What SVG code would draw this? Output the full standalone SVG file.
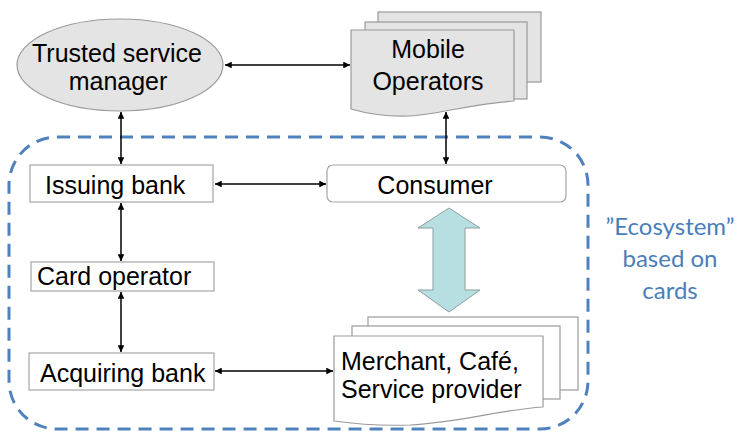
<svg xmlns="http://www.w3.org/2000/svg" width="739" height="432" viewBox="0 0 739 432">
<style>
.lbl{font-family:"Liberation Sans",Arial,sans-serif;font-size:25px;fill:#000}
.box{fill:#fff;stroke:#a6a6a6;stroke-width:1.2}
.gray{fill:#e4e4e4;stroke:#9a9a9a;stroke-width:1.2}
.doc{fill:#fff;stroke:#9a9a9a;stroke-width:1.2}
.con{stroke:#000;stroke-width:1.5;fill:none;marker-start:url(#ah);marker-end:url(#ah)}
.eco{font-family:Lato,"Open Sans",sans-serif;font-size:24px;fill:#4a7ebb}
</style>
<defs>
<marker id="ah" viewBox="0 0 10 10" refX="10" refY="5" markerWidth="4.5" markerHeight="4.5" orient="auto-start-reverse" markerUnits="strokeWidth">
<path d="M0,0 L10,5 L0,10 z" fill="#000"/>
</marker>
</defs>
<rect x="9" y="137" width="579" height="292" rx="48" ry="48" fill="none" stroke="#4f81bd" stroke-width="3" stroke-dasharray="13,8"/>
<g id="ecosystem-label">
<text class="eco" x="670" y="235" text-anchor="middle">”Ecosystem”</text>
<text class="eco" x="670" y="267" text-anchor="middle">based on</text>
<text class="eco" x="670" y="299" text-anchor="middle">cards</text>
</g>
<g id="tsm">
<ellipse cx="120" cy="65" rx="103" ry="46" class="gray"/>
<text class="lbl" x="117" y="62" text-anchor="middle">Trusted service</text>
<text class="lbl" x="118" y="90" text-anchor="middle">manager</text>
</g>
<g id="mobile-operators">
<rect x="378" y="12" width="163" height="70" class="gray"/>
<rect x="365" y="22" width="162" height="77" class="gray"/>
<path d="M351,30 H514 V101 C470,104 440,114 410,116 C385,117 365,113 351,109 Z" class="gray"/>
<text class="lbl" x="428" y="58" text-anchor="middle">Mobile</text>
<text class="lbl" x="428" y="90" text-anchor="middle">Operators</text>
</g>
<g id="issuing-bank">
<rect x="30" y="165" width="183" height="37" class="box"/>
<text class="lbl" x="45" y="194">Issuing bank</text>
</g>
<g id="consumer">
<rect x="327" y="165" width="239" height="37" rx="6" ry="6" class="box"/>
<text class="lbl" x="435" y="194" text-anchor="middle">Consumer</text>
</g>
<g id="card-operator">
<rect x="31" y="262" width="183" height="29" class="box"/>
<text class="lbl" x="37" y="285">Card operator</text>
</g>
<g id="acquiring-bank">
<rect x="29" y="353" width="185" height="37" class="box"/>
<text class="lbl" x="40" y="382">Acquiring bank</text>
</g>
<g id="merchant">
<rect x="368" y="317" width="210" height="73" class="doc"/>
<rect x="352" y="326" width="208" height="73" class="doc"/>
<path d="M334,336 H543 V407 C500,410 460,422 410,425 C380,426 355,424 334,421 Z" class="doc"/>
<text class="lbl" x="341" y="370">Merchant, Café,</text>
<text class="lbl" x="341" y="398">Service provider</text>
</g>
<g id="connectors">
<line class="con" x1="225" y1="65" x2="350" y2="65"/>
<line class="con" x1="121" y1="112" x2="121" y2="164"/>
<line class="con" x1="446" y1="112" x2="446" y2="164"/>
<line class="con" x1="215" y1="184" x2="326" y2="184"/>
<line class="con" x1="121" y1="203" x2="121" y2="261"/>
<line class="con" x1="121" y1="292" x2="121" y2="352"/>
<line class="con" x1="215" y1="371" x2="333" y2="371"/>
<path d="M449,208 L480,228 L465,228 L465,290 L480,290 L449,312 L418,290 L433,290 L433,228 L418,228 Z" fill="#b7dfe1" stroke="#8c9ea0" stroke-width="1"/>
</g>
</svg>
